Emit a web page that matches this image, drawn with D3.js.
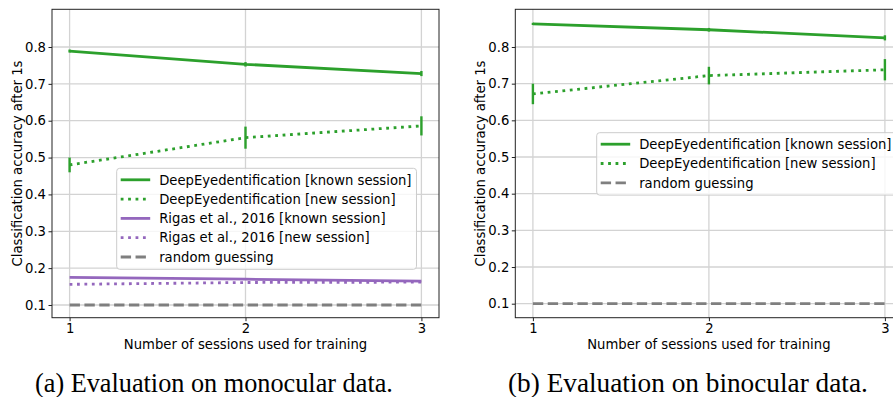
<!DOCTYPE html>
<html>
<head>
<meta charset="utf-8">
<script src="https://cdn.jsdelivr.net/npm/d3@7"></script>
<style>
  body { margin: 0; background: #fff; }
  svg { display: block; }
  .tick text { font-family: "DejaVu Sans", sans-serif; font-size: 13.2px; fill: #000; }
</style>
</head>
<body>
<div id="chart"></div>
<script>
// data
const sessions = [1, 2, 3];
const yTicks = [0.1, 0.2, 0.3, 0.4, 0.5, 0.6, 0.7, 0.8];
const randomGuess = 0.1;

// (a) monocular
const monoDeepKnown = [0.789, 0.753, 0.728];
const monoDeepKnownErr = [0.004, 0.006, 0.007];
const monoDeepNew = [0.480, 0.554, 0.586];
const monoDeepNewErr = [0.020, 0.030, 0.026];
const monoRigasKnown = [0.175, 0.170, 0.165];
const monoRigasNew = [0.156, 0.161, 0.162];

// (b) binocular
const binoDeepKnown = [0.863, 0.847, 0.825];
const binoDeepKnownErr = [0.003, 0.005, 0.007];
const binoDeepNew = [0.672, 0.722, 0.738];
const binoDeepNewErr = [0.028, 0.024, 0.029];

const green = "#2ca02c", purple = "#9467bd", grey = "#7f7f7f";
const LW = 2.8;
const dotted = `${LW} ${LW * 1.65}`;
const dashed = `${LW * 3.7} ${LW * 1.6}`;
const FONT = "13.2px";

const width = 893, height = 397;
const svg = d3.select("#chart").append("svg")
  .attr("width", width)
  .attr("height", height);
svg.append("rect").attr("width", width).attr("height", height).attr("fill", "#fff");

function drawPanel(cfg) {
  const x = d3.scaleLinear().domain([0.9, 3.1]).range([cfg.left, cfg.right]);
  const y = d3.scaleLinear().domain(cfg.yDomain).range([317.7, 9.3]);

  const g = svg.append("g");

  // grid
  g.append("g")
    .selectAll("line")
    .data(sessions)
    .join("line")
    .attr("x1", d => x(d)).attr("x2", d => x(d))
    .attr("y1", y.range()[0]).attr("y2", y.range()[1])
    .attr("stroke", "#d3d3d3").attr("stroke-width", 1.3);
  g.append("g")
    .selectAll("line")
    .data(yTicks)
    .join("line")
    .attr("x1", cfg.left).attr("x2", cfg.right)
    .attr("y1", d => y(d)).attr("y2", d => y(d))
    .attr("stroke", "#d3d3d3").attr("stroke-width", 1.3);

  const line = d3.line().x((d, i) => x(sessions[i])).y(d => y(d));

  cfg.series.forEach(s => {
    g.append("path")
      .datum(s.values)
      .attr("d", line)
      .attr("fill", "none")
      .attr("stroke", s.color)
      .attr("stroke-width", LW)
      .attr("stroke-dasharray", s.dash || null);
    if (s.err) {
      g.append("g")
        .selectAll("line")
        .data(s.values)
        .join("line")
        .attr("x1", (d, i) => x(sessions[i])).attr("x2", (d, i) => x(sessions[i]))
        .attr("y1", (d, i) => y(d - s.err[i])).attr("y2", (d, i) => y(d + s.err[i]))
        .attr("stroke", s.color)
        .attr("stroke-width", 2.4);
    }
  });

  // frame
  g.append("rect")
    .attr("x", cfg.left).attr("y", 9.3)
    .attr("width", cfg.right - cfg.left).attr("height", 317.7 - 9.3)
    .attr("fill", "none").attr("stroke", "#222").attr("stroke-width", 1);

  // axes
  const yAxis = g.append("g")
    .attr("transform", `translate(${cfg.left},0)`)
    .call(d3.axisLeft(y).tickValues(yTicks).tickFormat(d3.format(".1f")).tickSize(3.5).tickPadding(2.5));
  const xAxis = g.append("g")
    .attr("transform", `translate(0,317.7)`)
    .call(d3.axisBottom(x).tickValues(sessions).tickFormat(d3.format("d")).tickSize(3.5).tickPadding(2));
  [yAxis, xAxis].forEach(a => {
    a.select(".domain").remove();
    a.selectAll(".tick line").attr("stroke", "#222");
  });

  g.append("text")
    .attr("x", (cfg.left + cfg.right) / 2)
    .attr("y", 348.5)
    .attr("text-anchor", "middle")
    .style("font-family", "DejaVu Sans, sans-serif")
    .style("font-size", FONT)
    .text("Number of sessions used for training");

  g.append("text")
    .attr("transform", `translate(${cfg.ylabelX},163.5) rotate(-90)`)
    .attr("text-anchor", "middle")
    .style("font-family", "DejaVu Sans, sans-serif")
    .style("font-size", FONT)
    .text("Classification accuracy after 1s");

  // legend
  const lg = g.append("g").attr("transform", `translate(${cfg.legendX},${cfg.legendY})`);
  const box = lg.append("rect")
    .attr("fill", "#fff").attr("fill-opacity", 0.8)
    .attr("stroke", "#cccccc").attr("stroke-width", 1).attr("rx", 3);
  let maxW = 0;
  cfg.legend.forEach((s, i) => {
    const cy = 11.5 + i * 19.3;
    lg.append("line")
      .attr("x1", 4).attr("x2", 33.5)
      .attr("y1", cy).attr("y2", cy)
      .attr("stroke", s.color).attr("stroke-width", LW)
      .attr("stroke-dasharray", s.dash || null);
    const t = lg.append("text")
      .attr("x", 42.5).attr("y", cy + 4.8)
      .style("font-family", "DejaVu Sans, sans-serif")
      .style("font-size", FONT)
      .text(s.label);
    maxW = Math.max(maxW, t.node().getComputedTextLength());
  });
  box.attr("width", 42.5 + maxW + 5).attr("height", cfg.legend.length * 19.3 + 4.5);

  // caption
  const cap = svg.append("text")
    .attr("x", cfg.capX).attr("y", 392)
    .style("font-family", "Liberation Serif, serif")
    .style("font-size", "18px")
    .text(cfg.caption);
  const w = cap.node().getComputedTextLength();
  cap.style("font-size", (18 * cfg.capW / w) + "px");
}

const deepKnown = { label: "DeepEyedentification [known session]", color: green };
const deepNew = { label: "DeepEyedentification [new session]", color: green, dash: dotted };
const rigasKnown = { label: "Rigas et al., 2016 [known session]", color: purple };
const rigasNew = { label: "Rigas et al., 2016 [new session]", color: purple, dash: dotted };
const randomG = { label: "random guessing", color: grey, dash: dashed };

drawPanel({
  left: 52, right: 439, yDomain: [0.0655, 0.9023],
  ylabelX: 21.5, legendX: 116.7, legendY: 168.3,
  capX: 35, capW: 358, caption: "(a) Evaluation on monocular data.",
  series: [
    { values: sessions.map(() => randomGuess), color: grey, dash: dashed },
    { values: monoRigasNew, color: purple, dash: dotted },
    { values: monoRigasKnown, color: purple },
    { values: monoDeepNew, err: monoDeepNewErr, color: green, dash: dotted },
    { values: monoDeepKnown, err: monoDeepKnownErr, color: green }
  ],
  legend: [deepKnown, deepNew, rigasKnown, rigasNew, randomG]
});

drawPanel({
  left: 515.3, right: 902.5, yDomain: [0.0618, 0.9028],
  ylabelX: 484.5, legendX: 596.7, legendY: 132.7,
  capX: 508, capW: 360, caption: "(b) Evaluation on binocular data.",
  series: [
    { values: sessions.map(() => randomGuess), color: grey, dash: dashed },
    { values: binoDeepNew, err: binoDeepNewErr, color: green, dash: dotted },
    { values: binoDeepKnown, err: binoDeepKnownErr, color: green }
  ],
  legend: [deepKnown, deepNew, randomG]
});
</script>
</body>
</html>
